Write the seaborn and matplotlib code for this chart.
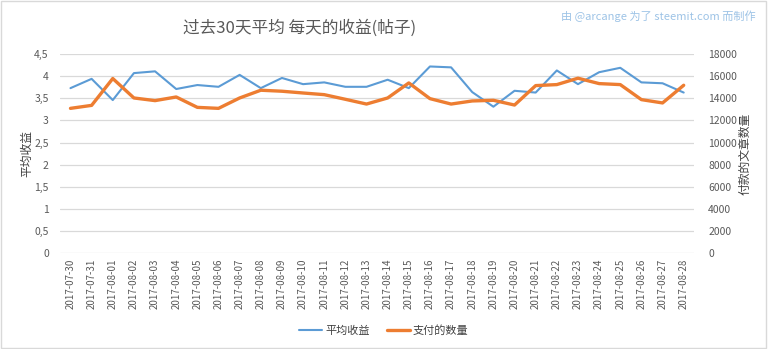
import matplotlib
matplotlib.use("Agg")
import matplotlib.pyplot as plt
from matplotlib.ticker import FuncFormatter, MultipleLocator
from matplotlib.patches import Rectangle
import seaborn as sns
import pandas as pd

dates = ["2017-07-30", "2017-07-31", "2017-08-01", "2017-08-02", "2017-08-03", "2017-08-04",
         "2017-08-05", "2017-08-06", "2017-08-07", "2017-08-08", "2017-08-09", "2017-08-10",
         "2017-08-11", "2017-08-12", "2017-08-13", "2017-08-14", "2017-08-15", "2017-08-16",
         "2017-08-17", "2017-08-18", "2017-08-19", "2017-08-20", "2017-08-21", "2017-08-22",
         "2017-08-23", "2017-08-24", "2017-08-25", "2017-08-26", "2017-08-27", "2017-08-28"]
avg_revenue = [3.73, 3.94, 3.46, 4.07, 4.11, 3.71, 3.80, 3.76, 4.03, 3.73, 3.96, 3.82,
               3.86, 3.76, 3.76, 3.92, 3.73, 4.22, 4.20, 3.64, 3.31, 3.67, 3.63, 4.13,
               3.82, 4.09, 4.19, 3.86, 3.84, 3.63]
paid_count = [13090, 13360, 15790, 14030, 13790, 14120, 13180, 13090, 14030, 14730, 14640, 14480,
              14330, 13910, 13480, 14030, 15390, 13970, 13480, 13760, 13820, 13390, 15150, 15240,
              15820, 15330, 15240, 13880, 13580, 15180]

title = "过去30天平均 每天的收益(帖子)"
watermark = "由 @arcange 为了 steemit.com 而制作"
left_label = "平均收益"
right_label = "付款的文章数量"
series1 = "平均收益"
series2 = "支付的数量"

sns.set_theme(style="white")
plt.rcParams['font.family'] = ['Noto Sans CJK SC', 'DejaVu Sans']

df = pd.DataFrame({"pos": range(len(dates)), "date": dates,
                   "avg": avg_revenue, "cnt": paid_count})

fig = plt.figure(figsize=(7.68, 3.49), dpi=100)
ax = fig.add_axes([0.078, 0.275, 0.826, 0.57])
ax2 = ax.twinx()

blue = "#5B9BD5"
orange = "#ED7D31"
tick_col = "#595959"

sns.lineplot(data=df, x="pos", y="avg", ax=ax, color=blue, linewidth=1.5, label=series1, legend=False)
sns.lineplot(data=df, x="pos", y="cnt", ax=ax2, color=orange, linewidth=2.4, label=series2, legend=False)

ax.set_xlim(-0.5, len(dates) - 0.5)
ax.set_ylim(0, 4.5)
ax2.set_ylim(0, 18000)
ax.yaxis.set_major_locator(MultipleLocator(0.5))
ax2.yaxis.set_major_locator(MultipleLocator(2000))
ax.yaxis.set_major_formatter(FuncFormatter(lambda v, p: ("%g" % v).replace(".", ",")))
ax2.yaxis.set_major_formatter(FuncFormatter(lambda v, p: "%d" % v))
ax.set_xticks(df["pos"])
ax.set_xticklabels(dates, rotation=90, fontsize=7, color=tick_col)
ax.grid(axis="y", color="#D9D9D9", linewidth=0.9)
ax.set_axisbelow(True)
for a in (ax, ax2):
    for s in a.spines.values():
        s.set_visible(False)
    a.tick_params(length=0, labelsize=7.5, labelcolor=tick_col)
ax.tick_params(axis="x", pad=4, labelsize=7)
ax.tick_params(axis="y", pad=8)
ax2.tick_params(axis="y", pad=10)
ax.set_xlabel("")
ax.set_ylabel(left_label, fontsize=8.5, color="#404040", labelpad=1)
ax2.set_ylabel(right_label, fontsize=8.5, color="#404040", labelpad=1)

fig.text(0.39, 0.92, title, ha="center", va="center", fontsize=12, color="#595959")
fig.text(0.984, 0.955, watermark, ha="right", va="center", fontsize=8, color="#9DC3E6")

h1, l1 = ax.get_legend_handles_labels()
h2, l2 = ax2.get_legend_handles_labels()
fig.legend(h1 + h2, l1 + l2, loc="center", bbox_to_anchor=(0.5, 0.052), ncol=2, frameon=False,
           fontsize=8, handlelength=2.0, handletextpad=0.3, columnspacing=1.6, labelcolor="#404040")

fig.patches.append(Rectangle((0.001, 0.002), 0.997, 0.995, transform=fig.transFigure,
                             fill=False, edgecolor="#D9D9D9", linewidth=1))

fig.savefig("out.png", dpi=100)
